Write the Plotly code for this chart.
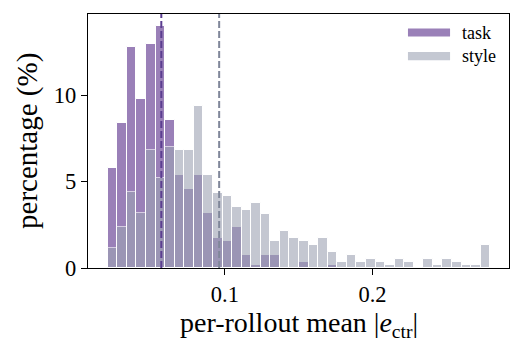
import numpy as np
import plotly.graph_objects as go

# ---- data ----
bin_start = 0.0206
bin_width = 0.00648
task_pct = [5.76, 8.36, 12.76, 9.77, 12.97, 13.98, 8.57, 5.37, 4.56, 5.37,
            3.17, 1.74, 1.56, 2.36, 0.74, 0.16, 0.74, 0.74, 0.0, 0.0,
            0.33, 0.0, 0.0, 0.18, 0.0, 0.0, 0.0, 0.0, 0.0, 0.0,
            0.0, 0.0, 0.0, 0.0, 0.0, 0.0, 0.0, 0.0, 0.0, 0.0]
style_pct = [1.18, 2.40, 4.40, 3.21, 6.80, 5.18, 7.01, 6.80, 6.80, 9.36,
             5.37, 4.34, 4.15, 3.55, 3.34, 3.75, 3.15, 1.56, 2.16, 1.76,
             1.56, 1.35, 1.76, 0.95, 0.33, 0.74, 0.33, 0.54, 0.33, 0.18,
             0.54, 0.33, 0.0, 0.54, 0.18, 0.54, 0.33, 0.18, 0.18, 1.35]
task_mean = 0.0569
style_mean = 0.0961
series_names = ["task", "style"]
x_ticks = [0.1, 0.2]
y_ticks = [0, 5, 10]
x_title = "per-rollout mean |<i>e</i><sub>ctr</sub>|"
y_title = "percentage (%)"

# ---- styles ----
task_color = "#9a80b8"
style_color = "#9da3b4"
style_opacity = 0.6
task_line_color = "#5b3d90"
style_line_color = "#80879a"
FONT = "Liberation Serif, Times New Roman, serif"

n = len(task_pct)
centers = bin_start + bin_width * (np.arange(n) + 0.5)

fig = go.Figure()
fig.add_trace(go.Bar(x=centers, y=task_pct, width=bin_width, name=series_names[0],
                     marker=dict(color=task_color, line=dict(color="white", width=1)),
                     showlegend=False))
fig.add_trace(go.Bar(x=centers, y=style_pct, width=bin_width, name=series_names[1],
                     marker=dict(color=style_color, line=dict(color="white", width=1)),
                     opacity=style_opacity, showlegend=False))

fig.add_vline(x=task_mean, line=dict(color=task_line_color, width=2, dash="7px,3px"))
fig.add_vline(x=style_mean, line=dict(color=style_line_color, width=2, dash="7px,3px"))

# manual legend (wide swatches like matplotlib)
leg = [(series_names[0], task_color, 1.0, 0.927), (series_names[1], style_color, style_opacity, 0.834)]
for name, col, op, yc in leg:
    fig.add_shape(type="rect", xref="paper", yref="paper",
                  x0=0.760, x1=0.860, y0=yc - 0.016, y1=yc + 0.016,
                  fillcolor=col, opacity=op, line=dict(width=0))
    fig.add_annotation(text=name, xref="paper", yref="paper", x=0.884, y=yc,
                       xanchor="left", yanchor="middle", showarrow=False,
                       font=dict(family=FONT, size=18, color="black"))

# axis titles placed as annotations (positioned like the reference)
fig.add_annotation(text=x_title, xref="paper", yref="paper", x=0.5, y=-0.145,
                   xanchor="center", yanchor="top", showarrow=False,
                   font=dict(family=FONT, size=28, color="black"))
fig.add_annotation(text=y_title, xref="paper", yref="paper", x=-0.145, y=0.5,
                   xanchor="center", yanchor="middle", textangle=-90, showarrow=False,
                   font=dict(family=FONT, size=29, color="black"))

axis_common = dict(showline=True, linecolor="black", linewidth=1.3, mirror=True,
                   ticks="outside", ticklen=6, tickwidth=1.3, tickcolor="black",
                   showgrid=False, zeroline=False, automargin=False,
                   tickfont=dict(family=FONT, size=22.5, color="black"))

fig.update_layout(
    width=511, height=338,
    margin=dict(l=88, r=2, t=14, b=70),
    paper_bgcolor="white", plot_bgcolor="white",
    barmode="overlay", bargap=0,
    xaxis=dict(range=[0.00722, 0.2925], tickvals=x_ticks, ticktext=[str(v) for v in x_ticks],
               **axis_common),
    yaxis=dict(range=[0, 14.69], tickvals=y_ticks, ticktext=[str(v) for v in y_ticks],
               **axis_common),
)

fig.write_html("out.html",
               config={"displayModeBar": False},
               post_script="document.body.style.margin='0';document.body.style.overflow='hidden';")
